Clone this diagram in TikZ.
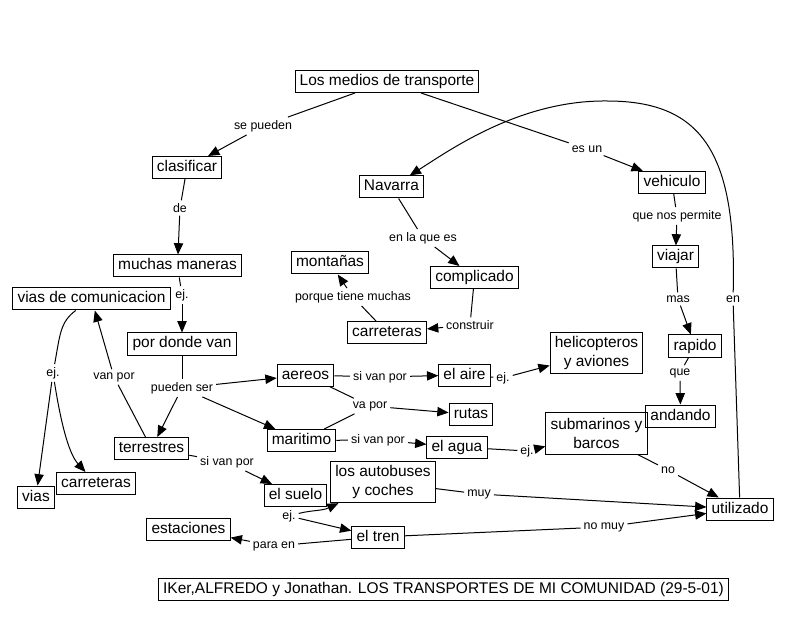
\documentclass[tikz,border=0pt]{standalone}
\usepackage{fontspec}
\setmainfont{Liberation Sans}
\usetikzlibrary{arrows.meta}

\begin{document}
\begin{tikzpicture}[>={Triangle[length=8.5pt,width=7pt]}, x=0.75pt, y=-0.75pt, line width=0.75pt,
  box/.style={draw, inner xsep=3.5pt, inner ysep=2pt, align=center, font=\fontsize{11.6}{14.5}\selectfont},
  concept/.style={box, text height=8.6pt, text depth=2.6pt, minimum height=16.5pt},
  concepttwo/.style={box, minimum height=31pt},
  link/.style={inner sep=2pt, font=\fontsize{9.3}{11}\selectfont}]
\fill[white] (0,0) rectangle (789,620);
\useasboundingbox (0,0) rectangle (789,620);

\foreach \nm/\x/\y/\txt in {%
medios/387/81.5/Los medios de transporte,%
clasificar/187/167.5/clasificar,%
navarra/391.5/187/Navarra,%
vehiculo/672/182.5/vehiculo,%
maneras/177.5/266/muchas maneras,%
montanas/330/263/montañas,%
complicado/474.5/277.5/complicado,%
viajar/675.5/257/viajar,%
viascom/91.5/299/vias de comunicacion,%
carreteras/387/332.5/carreteras,%
dondevan/182/344/por donde van,%
rapido/695/346/rapido,%
aereos/305.5/375/aereos,%
aire/464.5/375/el aire,%
rutas/471/414.5/rutas,%
andando/680.5/416/andando,%
maritimo/301.5/440.5/maritimo,%
agua/457/447/el agua,%
terrestres/151.5/448.5/terrestres,%
suelo/295.5/495.5/el suelo,%
vias/36/497/vias,%
carreterasb/96/483.5/carreteras,%
estaciones/188.5/529.5/estaciones,%
tren/378/537/el tren,%
utilizado/740/509/utilizado%
}{
  \node[concept] (\nm) at (\x,\y) {\txt};
}
\foreach \nm/\x/\y/\txt in {%
helicopteros/596.5/353/helicopteros\\y aviones,%
submarinos/596.5/433.5/submarinos y\\barcos,%
autobuses/383/482/los autobuses\\y coches%
}{
  \node[concepttwo] (\nm) at (\x,\y) {\txt};
}
\node[concept] (firma) at (443.5,589) {IKer,ALFREDO y Jonathan. LOS TRANSPORTES DE MI COMUNIDAD (29-5-01)};

% linking phrases
\foreach \nm/\x/\y/\txt in {%
lsepueden/263/126/se pueden,%
lesun/587/149/es un,%
lde/180/208/de,%
len/733/299/en,%
lenlaque/423/238/en la que es,%
lquenos/677/216/que nos permite,%
lmas/678/299/mas,%
lconstruir/470/325/construir,%
lporque/353/297/porque tiene muchas,%
lejmaneras/182/295/ej.,%
lejvias/53/373/ej.,%
lvanpor/114/377/van por,%
lpueden/182/388/pueden ser,%
lsiaire/380/377/si van por,%
lvapor/370/406/va por,%
lsiagua/378/440/si van por,%
lejaire/503/378/ej.,%
lejagua/527/451/ej.,%
lque/680/373/que,%
lno/668/470/no,%
lsisuelo/227/462/si van por,%
lejsuelo/289/516/ej.,%
lmuy/479/494/muy,%
lnomuy/604/527/no muy,%
lparaen/274/546/para en%
}{
  \node[link] (\nm) at (\x,\y) {\txt};
}

% simple propositions
\foreach \a/\l/\b in {%
medios/lsepueden/clasificar, medios/lesun/vehiculo, clasificar/lde/maneras,
navarra/lenlaque/complicado, vehiculo/lquenos/viajar, viajar/lmas/rapido,
complicado/lconstruir/carreteras, carreteras/lporque/montanas,
maneras/lejmaneras/dondevan, terrestres/lvanpor/viascom,
aereos/lsiaire/aire, maritimo/lsiagua/agua, aire/lejaire/helicopteros,
agua/lejagua/submarinos, rapido/lque/andando, submarinos/lno/utilizado,
terrestres/lsisuelo/suelo, autobuses/lmuy/utilizado, tren/lnomuy/utilizado,
tren/lparaen/estaciones}{
  \draw (\a) -- (\l);
  \draw[->] (\l) -- (\b);
}

% branching propositions
\draw (dondevan) -- (lpueden);
\draw[->] (lpueden) -- (aereos);
\draw[->] (lpueden) -- (terrestres);
\draw[->] (lpueden) -- (maritimo);
\draw (aereos) -- (lvapor);
\draw (maritimo) -- (lvapor);
\draw[->] (lvapor) -- (rutas);
\draw (viascom) .. controls (60,322) and (60,335) .. (lejvias);
\draw[->] (lejvias) -- (vias);
\draw[->] (lejvias) .. controls (62,430) and (70,455) .. (carreterasb);
\draw (suelo) -- (lejsuelo);
\draw[->] (lejsuelo) .. controls (312,510) and (322,511) .. (autobuses);
\draw[->] (lejsuelo) -- (tren);
\coordinate (cima) at (607,101);
\draw (utilizado) -- (len);
\draw[->] (len) .. controls (737,150) and (700,101) .. (cima) .. controls (520,100) and (450,150) .. (navarra);
\end{tikzpicture}
\end{document}
